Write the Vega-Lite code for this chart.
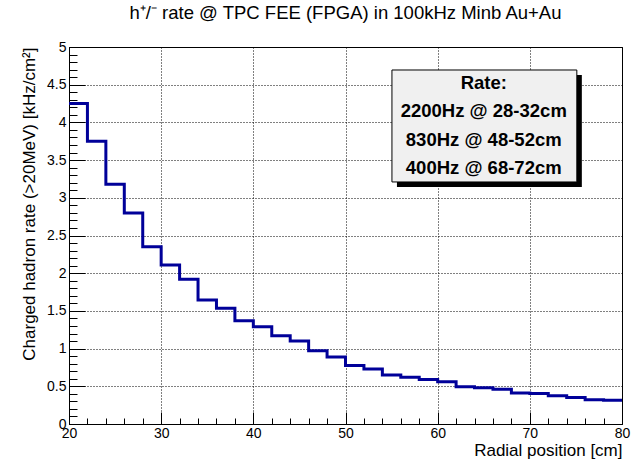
{
  "$schema": "https://vega.github.io/schema/vega-lite/v6.json",
  "width": 553,
  "height": 377,
  "autosize": "none",
  "padding": {"left": 69, "top": 47, "right": 9, "bottom": 38},
  "background": "white",
  "config": {
    "font": "Liberation Sans",
    "view": {"stroke": "black", "strokeWidth": 1},
    "axis": {
      "domainColor": "black",
      "tickColor": "black",
      "labelColor": "black",
      "titleColor": "black",
      "labelFont": "Liberation Sans",
      "titleFont": "Liberation Sans",
      "labelFontSize": 14,
      "titleFontSize": 17,
      "titleFontWeight": "normal",
      "labelFlush": false,
      "labelOverlap": false,
      "gridColor": "black",
      "gridDash": [1, 2],
      "gridWidth": 1
    }
  },
  "title": {
    "text": "h⁺/⁻ rate @ TPC FEE (FPGA) in 100kHz Minb Au+Au",
    "font": "Liberation Sans",
    "fontSize": 18.5,
    "fontWeight": "normal",
    "color": "black",
    "anchor": "middle",
    "offset": 18
  },
  "data": {
    "values": [
      {"x0": 20, "x1": 22, "rate": 4.25},
      {"x0": 22, "x1": 24, "rate": 3.75},
      {"x0": 24, "x1": 26, "rate": 3.18},
      {"x0": 26, "x1": 28, "rate": 2.80},
      {"x0": 28, "x1": 30, "rate": 2.35},
      {"x0": 30, "x1": 32, "rate": 2.11},
      {"x0": 32, "x1": 34, "rate": 1.92},
      {"x0": 34, "x1": 36, "rate": 1.645},
      {"x0": 36, "x1": 38, "rate": 1.535},
      {"x0": 38, "x1": 40, "rate": 1.37},
      {"x0": 40, "x1": 42, "rate": 1.29},
      {"x0": 42, "x1": 44, "rate": 1.17},
      {"x0": 44, "x1": 46, "rate": 1.10},
      {"x0": 46, "x1": 48, "rate": 0.97},
      {"x0": 48, "x1": 50, "rate": 0.89},
      {"x0": 50, "x1": 52, "rate": 0.775},
      {"x0": 52, "x1": 54, "rate": 0.73},
      {"x0": 54, "x1": 56, "rate": 0.65},
      {"x0": 56, "x1": 58, "rate": 0.62},
      {"x0": 58, "x1": 60, "rate": 0.59},
      {"x0": 60, "x1": 62, "rate": 0.56},
      {"x0": 62, "x1": 64, "rate": 0.495},
      {"x0": 64, "x1": 66, "rate": 0.48},
      {"x0": 66, "x1": 68, "rate": 0.46},
      {"x0": 68, "x1": 70, "rate": 0.41},
      {"x0": 70, "x1": 72, "rate": 0.405},
      {"x0": 72, "x1": 74, "rate": 0.375},
      {"x0": 74, "x1": 76, "rate": 0.35},
      {"x0": 76, "x1": 78, "rate": 0.32},
      {"x0": 78, "x1": 80, "rate": 0.315}
    ]
  },
  "layer": [
    {
      "transform": [{"fold": ["x0", "x1"], "as": ["edge", "r"]}],
      "mark": {"type": "line", "color": "#000099", "strokeWidth": 3, "clip": true},
      "encoding": {
        "x": {
          "field": "r",
          "type": "quantitative",
          "scale": {"domain": [20, 80], "nice": false, "zero": false},
          "axis": {
            "title": "Radial position [cm]",
            "titleAnchor": "end",
            "titlePadding": -4,
            "tickCount": 200,
            "values": [20,22,24,26,28,30,32,34,36,38,40,42,44,46,48,50,52,54,56,58,60,62,64,66,68,70,72,74,76,78,80],
            "format": "~g",
            "labelExpr": "datum.value % 10 === 0 ? datum.label : ''",
            "tickSize": {"condition": {"test": "datum.value % 10 === 0", "value": -12}, "value": -6},
            "labelPadding": 14,
            "grid": true,
            "gridOpacity": {"condition": {"test": "datum.value % 10 === 0", "value": 1}, "value": 0}
          }
        },
        "y": {
          "field": "rate",
          "type": "quantitative",
          "scale": {"domain": [0, 5], "nice": false, "zero": true},
          "axis": {
            "title": "Charged hadron rate (>20MeV) [kHz/cm²]",
            "titleAnchor": "end",
            "titlePadding": 8,
            "tickCount": 200,
            "values": [0,0.1,0.2,0.3,0.4,0.5,0.6,0.7,0.8,0.9,1,1.1,1.2,1.3,1.4,1.5,1.6,1.7,1.8,1.9,2,2.1,2.2,2.3,2.4,2.5,2.6,2.7,2.8,2.9,3,3.1,3.2,3.3,3.4,3.5,3.6,3.7,3.8,3.9,4,4.1,4.2,4.3,4.4,4.5,4.6,4.7,4.8,4.9,5],
            "format": "~g",
            "labelExpr": "abs(datum.value*2 - round(datum.value*2)) < 0.001 ? datum.label : ''",
            "tickSize": {"condition": {"test": "abs(datum.value*2 - round(datum.value*2)) < 0.001", "value": -16}, "value": -8},
            "labelPadding": 19,
            "grid": true,
            "gridOpacity": {"condition": {"test": "abs(datum.value*2 - round(datum.value*2)) < 0.001", "value": 1}, "value": 0}
          }
        },
        "order": [{"field": "x0", "type": "quantitative"}, {"field": "edge", "type": "nominal"}]
      }
    },
    {
      "data": {"values": [{}]},
      "mark": {"type": "rect", "color": "black", "xOffset": 5, "x2Offset": 5, "yOffset": 5, "y2Offset": 5},
      "encoding": {
        "x": {"datum": 55.04},
        "x2": {"datum": 75.1},
        "y": {"datum": 4.695},
        "y2": {"datum": 3.21}
      }
    },
    {
      "data": {"values": [{}]},
      "mark": {"type": "rect", "fill": "#f0f0f0", "stroke": "black", "strokeWidth": 1},
      "encoding": {
        "x": {"datum": 55.04},
        "x2": {"datum": 75.1},
        "y": {"datum": 4.695},
        "y2": {"datum": 3.21}
      }
    },
    {
      "data": {"values": [{}]},
      "mark": {
        "type": "text",
        "text": ["Rate:", "2200Hz @ 28-32cm", "830Hz @ 48-52cm", "400Hz @ 68-72cm"],
        "font": "Liberation Sans",
        "fontWeight": "bold",
        "fontSize": 18.5,
        "lineHeight": 28.3,
        "align": "center",
        "baseline": "middle",
        "color": "black"
      },
      "encoding": {
        "x": {"datum": 65.0},
        "y": {"datum": 4.523}
      }
    }
  ]
}
